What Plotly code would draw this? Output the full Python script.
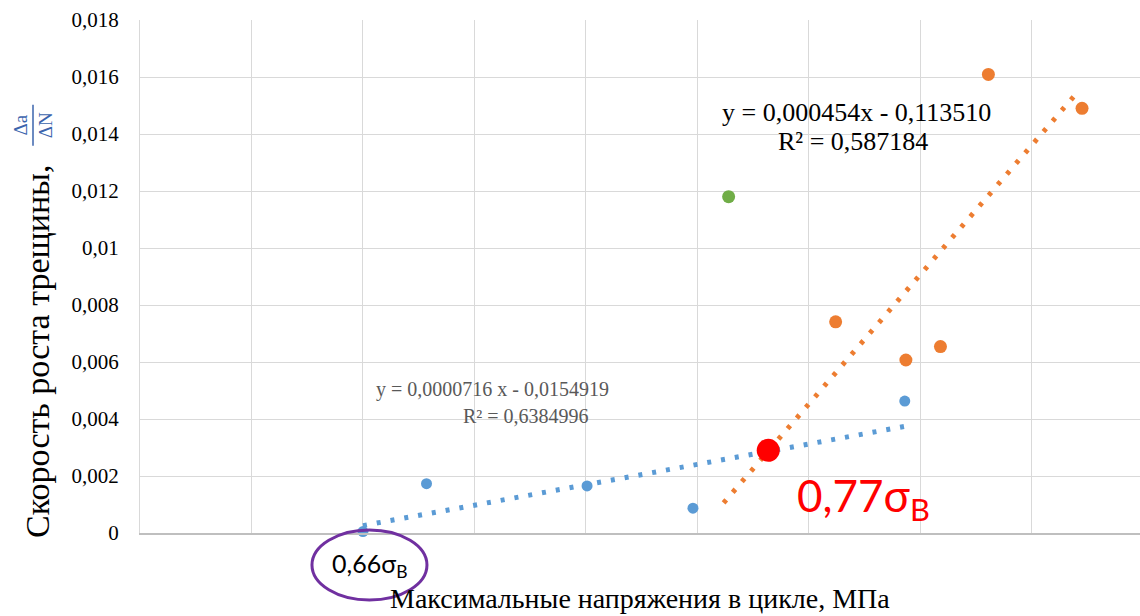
import numpy as np
import plotly.graph_objects as go

# ---- data ----
blue_x = [220.0, 225.7, 240.1, 249.6, 268.6]
blue_y = [0.00005, 0.00173, 0.00165, 0.00087, 0.00463]

orange_x = [256.35, 262.4, 268.7, 271.8, 276.1, 284.5]
orange_y = [0.00290, 0.00741, 0.00607, 0.00654, 0.01609, 0.01490]

green_x = [252.8]
green_y = [0.0118]

# highlighted point (0,77 sigma_B) – same as first orange point
red_x = [orange_x[0]]
red_y = [orange_y[0]]

# trendline coefficients as printed on the chart
blue_trend = (0.0000716, -0.0154919)
orange_trend = (0.000454, -0.113510)
blue_trend_range = [min(blue_x), max(blue_x)]
orange_trend_range = [min(orange_x) - 4, max(orange_x) - 0.5]

y_tickvals = [0, 0.002, 0.004, 0.006, 0.008, 0.01, 0.012, 0.014, 0.016, 0.018]
y_ticktext = ["0", "0,002", "0,004", "0,006", "0,008", "0,01", "0,012", "0,014", "0,016", "0,018"]
x_tickvals = [200, 210, 220, 230, 240, 250, 260, 270, 280, 290]

blue_eq = ["y = 0,0000716 x - 0,0154919", "R² = 0,6384996"]
orange_eq = ["y = 0,000454x - 0,113510", "R² = 0,587184"]

X_RANGE = [200, 289.7]
Y_RANGE = [0, 0.018]

BLUE = "#5B9BD5"
ORANGE = "#ED7D31"
GREEN = "#70AD47"
SERIF = "Liberation Serif"
SANS = "Lato"

fig = go.Figure()

# data points
fig.add_trace(go.Scatter(x=blue_x, y=blue_y, mode="markers", cliponaxis=False,
                         marker=dict(color=BLUE, size=11), showlegend=False))
fig.add_trace(go.Scatter(x=orange_x, y=orange_y, mode="markers", cliponaxis=False,
                         marker=dict(color=ORANGE, size=13), showlegend=False))
fig.add_trace(go.Scatter(x=green_x, y=green_y, mode="markers", cliponaxis=False,
                         marker=dict(color=GREEN, size=13), showlegend=False))

# trendlines
for (k, b), rng, col in [(blue_trend, blue_trend_range, BLUE),
                         (orange_trend, orange_trend_range, ORANGE)]:
    tx = np.array(rng)
    fig.add_trace(go.Scatter(x=tx, y=k * tx + b, mode="lines",
                             line=dict(color=col, width=5, dash="4px,10px"),
                             showlegend=False, hoverinfo="skip"))

# highlighted point
fig.add_trace(go.Scatter(x=red_x, y=red_y, mode="markers", cliponaxis=False,
                         marker=dict(color="#FF0000", size=23), showlegend=False))


def px(x):
    return (x - X_RANGE[0]) / (X_RANGE[1] - X_RANGE[0])


def py(y):
    return (y - Y_RANGE[0]) / (Y_RANGE[1] - Y_RANGE[0])


def note(x, y, text, size, color, family=SERIF, angle=0, yanchor="middle"):
    return dict(x=x, y=y, xref="paper", yref="paper", text=text, showarrow=False,
                xanchor="center", yanchor=yanchor, textangle=angle,
                font=dict(family=family, size=size, color=color))


annotations = [
    # equations
    note(px(231.6), py(0.00504), blue_eq[0], 20, "#595959"),
    note(px(234.6), py(0.00410), blue_eq[1], 20, "#595959"),
    note(px(264.3), py(0.01474), orange_eq[0], 26, "#000000"),
    note(px(264.0), py(0.01372), orange_eq[1], 26, "#000000"),
    # sigma labels
    note(px(red_x[0]) + 0.095, py(0.0012), "0,77σ<sub>B</sub>", 44, "#FF0000", SANS),
    note(px(blue_x[0]) + 0.007, -0.062, "0,66σ<sub>B</sub>", 25, "#000000", SANS),
    # axis titles
    note(0.5, -0.1615, "Максимальные напряжения в цикле, МПа", 28, "#000000",
         yanchor="bottom"),
    note(-0.102, 0.353, "Скорость роста трещины,", 34, "#000000", SERIF, -90),
    note(-0.107, 0.795, "Δa<br>ΔN", 19, "#3B64AD", SERIF, -90),
]

shapes = [
    # fraction bar
    dict(type="line", xref="paper", yref="paper", x0=-0.107, x1=-0.107,
         y0=0.755, y1=0.835, line=dict(color="#3B64AD", width=1.5)),
    # purple ellipse around 0,66 sigma_B
    dict(type="circle", xref="paper", yref="paper",
         x0=px(blue_x[0]) - 0.051, x1=px(blue_x[0]) + 0.064,
         y0=-0.1306, y1=0.006, line=dict(color="#7030A0", width=3)),
]

fig.update_layout(
    width=1140, height=616,
    margin=dict(l=140, r=0, t=20, b=83),
    paper_bgcolor="white", plot_bgcolor="white",
    showlegend=False,
    annotations=annotations,
    shapes=shapes,
    xaxis=dict(range=X_RANGE, tickvals=x_tickvals, showticklabels=False,
               showgrid=True, gridcolor="#D9D9D9", gridwidth=1,
               zeroline=False, showline=True, linecolor="#BFBFBF", linewidth=1.5,
               ticks=""),
    yaxis=dict(range=Y_RANGE, tickvals=y_tickvals, ticktext=y_ticktext,
               showgrid=True, gridcolor="#D9D9D9", gridwidth=1,
               zeroline=False, showline=True, linecolor="#D9D9D9",
               ticks="outside", ticklen=16, tickcolor="rgba(0,0,0,0)",
               tickfont=dict(family=SERIF, size=21, color="#000000")),
)

fig.write_html("out.html")
